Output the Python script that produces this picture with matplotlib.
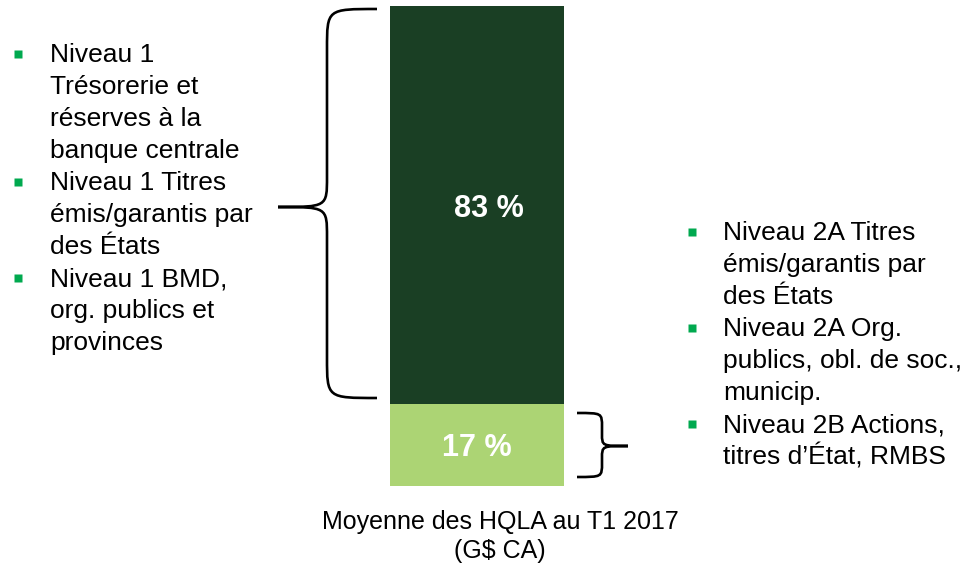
import matplotlib
matplotlib.use("Agg")
import matplotlib.pyplot as plt
from matplotlib.path import Path
from matplotlib.patches import PathPatch

plt.rcParams['font.family'] = ['Liberation Sans', 'DejaVu Sans']

# data
segments = ['Niveau 1', 'Niveau 2']
shares = [83, 17]
seg_colors = ['#1a3f24', '#acd474']
seg_labels = ['83 %', '17 %']

left_items = [
    ['Niveau 1', 'Trésorerie et', 'réserves à la', 'banque centrale'],
    ['Niveau 1 Titres', 'émis/garantis par', 'des États'],
    ['Niveau 1 BMD,', 'org. publics et', 'provinces'],
]
right_items = [
    ['Niveau 2A Titres', 'émis/garantis par', 'des États'],
    ['Niveau 2A Org.', 'publics, obl. de soc.,', 'municip.'],
    ['Niveau 2B Actions,', "titres d\u2019État, RMBS"],
]
caption = ['Moyenne des HQLA au T1 2017', '(G$ CA)']

W, H = 976, 567
fig = plt.figure(figsize=(W / 100, H / 100), dpi=100)

# bar axes (pixel box 390..564 x 6..486)
bx0, bx1, by0, by1 = 390, 564, 6, 486
ax = fig.add_axes([bx0 / W, (H - by1) / H, (bx1 - bx0) / W, (by1 - by0) / H])
bottom = 0
level2 = shares[1]
# stack: level 2 at bottom, level 1 on top
for i in [1, 0]:
    ax.bar(0, shares[i], bottom=bottom, width=1, color=seg_colors[i], edgecolor='none')
    bottom += shares[i]
ax.set_xlim(-0.5, 0.5)
ax.set_ylim(0, 100)
ax.axis('off')
ax.text(0.07, level2 + shares[0] / 2 - 0.7, seg_labels[0], color='white', fontsize=22,
        fontweight='bold', ha='center', va='center')
ax.text(0.0, level2 / 2 - 0.5, seg_labels[1], color='white', fontsize=22,
        fontweight='bold', ha='center', va='center')

# overlay in pixel coordinates
ov = fig.add_axes([0, 0, 1, 1])
ov.set_xlim(0, W)
ov.set_ylim(H, 0)
ov.axis('off')


def brace(x_end, x_mid, x_tip, y0, y1, y_tip, r, rt):
    verts = [
        (x_end, y0),
        (x_mid, y0), (x_mid, y0), (x_mid, y0 + r),
        (x_mid, y_tip - rt),
        (x_mid, y_tip), (x_mid, y_tip), (x_tip, y_tip),
        (x_mid, y_tip), (x_mid, y_tip), (x_mid, y_tip + rt),
        (x_mid, y1 - r),
        (x_mid, y1), (x_mid, y1), (x_end, y1),
    ]
    codes = [Path.MOVETO,
             Path.CURVE4, Path.CURVE4, Path.CURVE4,
             Path.LINETO,
             Path.CURVE4, Path.CURVE4, Path.CURVE4,
             Path.CURVE4, Path.CURVE4, Path.CURVE4,
             Path.LINETO,
             Path.CURVE4, Path.CURVE4, Path.CURVE4]
    ov.add_patch(PathPatch(Path(verts, codes), fill=False, lw=1.9, color='black',
                           capstyle='butt'))


brace(377, 327, 278, 9, 398, 207, 40, 30)
brace(577, 602, 628, 413, 477, 446, 14, 12)

green = '#00a94f'
fs = 19
line_h = 32


def bullets(items, x_b, x_t, y_start):
    y = y_start
    for item in items:
        ov.plot(x_b, y - 1, marker='s', ms=5.5, color=green, mec='none')
        for line in item:
            ov.text(x_t, y, line, fontsize=fs, ha='left', va='center', color='black')
            y += line_h


bullets(left_items, 18, 50, 55)
bullets(right_items, 692, 723, 233)

ov.text(500, 522, caption[0], fontsize=18, ha='center', va='center')
ov.text(500, 551, caption[1], fontsize=18, ha='center', va='center')

fig.savefig('out.png', dpi=100)
